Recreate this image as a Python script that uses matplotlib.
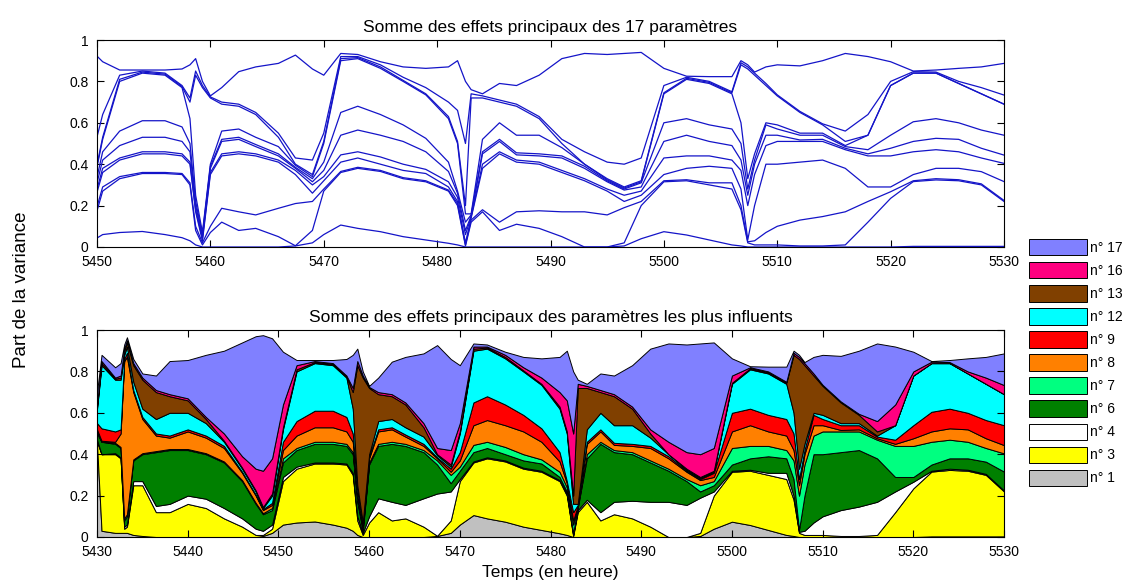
import numpy as np
import matplotlib.pyplot as plt

plt.rcParams["font.family"] = ["Liberation Sans", "DejaVu Sans"]

# time knots (hours)
hours = [5430, 5430.5, 5432, 5432.6, 5433.0, 5433.3, 5434, 5435, 5436.5, 5438,
         5440, 5442, 5444, 5446, 5447.5, 5448.3, 5449.3, 5450.5, 5452, 5454,
         5456, 5457.5, 5458.2, 5458.7, 5459.3, 5460, 5461, 5462.5, 5464, 5466,
         5467.5, 5469, 5470, 5471.5, 5473, 5475, 5477, 5479, 5481, 5481.8,
         5482.5, 5483, 5484, 5485.5, 5487, 5489, 5491, 5493, 5495, 5496.5,
         5498, 5500, 5502, 5504, 5506, 5506.8, 5507.4, 5508, 5509, 5510,
         5512, 5514, 5516, 5518, 5520, 5522, 5524, 5526, 5528, 5530]

# cumulated main effects (top of each layer)
cum_n1 = [0.45, 0.03, 0.02, 0.02, 0.02, 0.02, 0.01, 0.005, 0.0, 0.0,
          0.0, 0.0, 0.0, 0.0, 0.0, 0.005, 0.02, 0.06, 0.07, 0.075,
          0.06, 0.045, 0.03, 0.01, 0.0, 0.0, 0.0, 0.0, 0.0, 0.0,
          0.005, 0.02, 0.06, 0.106, 0.09, 0.074, 0.05, 0.034, 0.018, 0.01,
          0.0, 0.0, 0.0, 0.0, 0.0, 0.0, 0.0, 0.0, 0.0, 0.005,
          0.04, 0.074, 0.058, 0.034, 0.01, 0.005, 0.0, 0.0, 0.0, 0.0,
          0.0, 0.0, 0.0, 0.0, 0.0, 0.003, 0.003, 0.003, 0.003, 0.003]
cum_n3 = [0.46, 0.40, 0.40, 0.38, 0.04, 0.05, 0.25, 0.25, 0.12, 0.12,
          0.16, 0.14, 0.09, 0.05, 0.01, 0.01, 0.04, 0.27, 0.33, 0.355,
          0.355, 0.35, 0.30, 0.08, 0.01, 0.07, 0.12, 0.08, 0.09, 0.05,
          0.006, 0.08, 0.27, 0.36, 0.38, 0.365, 0.33, 0.315, 0.27, 0.20,
          0.005, 0.12, 0.17, 0.08, 0.11, 0.09, 0.05, 0.0, 0.0, 0.02,
          0.20, 0.315, 0.32, 0.30, 0.28, 0.18, 0.02, 0.01, 0.01, 0.01,
          0.005, 0.005, 0.01, 0.12, 0.235, 0.316, 0.324, 0.32, 0.30, 0.22]
cum_n4 = [0.47, 0.40, 0.405, 0.385, 0.05, 0.06, 0.27, 0.27, 0.15, 0.16,
          0.20, 0.185, 0.14, 0.09, 0.04, 0.03, 0.06, 0.29, 0.34, 0.36,
          0.36, 0.355, 0.31, 0.10, 0.02, 0.10, 0.187, 0.17, 0.155, 0.187,
          0.21, 0.22, 0.28, 0.365, 0.385, 0.37, 0.335, 0.32, 0.275, 0.21,
          0.01, 0.13, 0.18, 0.12, 0.17, 0.175, 0.17, 0.17, 0.155, 0.19,
          0.22, 0.32, 0.325, 0.31, 0.31, 0.20, 0.025, 0.03, 0.07, 0.10,
          0.13, 0.147, 0.17, 0.22, 0.267, 0.32, 0.33, 0.325, 0.305, 0.225]
cum_n6 = [0.50, 0.46, 0.45, 0.43, 0.08, 0.10, 0.37, 0.40, 0.41, 0.42,
          0.42, 0.40, 0.36, 0.27, 0.16, 0.11, 0.13, 0.36, 0.42, 0.45,
          0.45, 0.44, 0.40, 0.17, 0.03, 0.35, 0.44, 0.45, 0.44, 0.41,
          0.35, 0.26, 0.32, 0.41, 0.43, 0.40, 0.37, 0.355, 0.29, 0.22,
          0.02, 0.14, 0.38, 0.45, 0.41, 0.40, 0.36, 0.32, 0.27, 0.22,
          0.25, 0.35, 0.38, 0.39, 0.38, 0.28, 0.035, 0.20, 0.40, 0.40,
          0.41, 0.42, 0.38, 0.29, 0.29, 0.35, 0.38, 0.38, 0.364, 0.316]
cum_n7 = [0.51, 0.46, 0.455, 0.435, 0.09, 0.11, 0.375, 0.405, 0.415, 0.425,
          0.425, 0.405, 0.365, 0.275, 0.165, 0.115, 0.14, 0.38, 0.43, 0.46,
          0.46, 0.45, 0.41, 0.18, 0.04, 0.36, 0.45, 0.46, 0.45, 0.42,
          0.37, 0.30, 0.34, 0.445, 0.46, 0.435, 0.40, 0.375, 0.315, 0.24,
          0.06, 0.145, 0.40, 0.46, 0.42, 0.41, 0.37, 0.33, 0.28, 0.25,
          0.27, 0.43, 0.44, 0.44, 0.42, 0.37, 0.20, 0.35, 0.49, 0.51,
          0.51, 0.51, 0.47, 0.44, 0.44, 0.46, 0.47, 0.46, 0.43, 0.404]
cum_n8 = [0.52, 0.465, 0.46, 0.50, 0.85, 0.87, 0.70, 0.57, 0.49, 0.48,
          0.51, 0.48, 0.43, 0.31, 0.20, 0.13, 0.155, 0.42, 0.49, 0.53,
          0.53, 0.51, 0.46, 0.20, 0.05, 0.38, 0.51, 0.52, 0.485, 0.44,
          0.38, 0.315, 0.37, 0.54, 0.565, 0.54, 0.51, 0.46, 0.365, 0.26,
          0.08, 0.15, 0.45, 0.51, 0.445, 0.44, 0.43, 0.38, 0.315, 0.275,
          0.29, 0.51, 0.54, 0.51, 0.49, 0.42, 0.25, 0.40, 0.54, 0.54,
          0.517, 0.52, 0.477, 0.45, 0.477, 0.51, 0.525, 0.52, 0.477, 0.444]
cum_n9 = [0.55, 0.525, 0.51, 0.52, 0.86, 0.89, 0.71, 0.58, 0.50, 0.49,
          0.52, 0.49, 0.44, 0.315, 0.205, 0.135, 0.165, 0.46, 0.56, 0.61,
          0.61, 0.58, 0.50, 0.22, 0.06, 0.39, 0.52, 0.53, 0.495, 0.45,
          0.385, 0.33, 0.41, 0.65, 0.68, 0.64, 0.59, 0.525, 0.41, 0.27,
          0.12, 0.155, 0.46, 0.52, 0.455, 0.45, 0.44, 0.39, 0.32, 0.28,
          0.31, 0.60, 0.62, 0.59, 0.57, 0.50, 0.28, 0.42, 0.59, 0.57,
          0.54, 0.54, 0.485, 0.47, 0.54, 0.605, 0.62, 0.60, 0.565, 0.54]
cum_n12 = [0.62, 0.83, 0.76, 0.76, 0.88, 0.92, 0.75, 0.62, 0.57, 0.60,
           0.60, 0.55, 0.46, 0.33, 0.22, 0.14, 0.20, 0.52, 0.80, 0.84,
           0.83, 0.77, 0.62, 0.25, 0.07, 0.40, 0.56, 0.57, 0.53, 0.485,
           0.395, 0.34, 0.50, 0.90, 0.91, 0.863, 0.80, 0.735, 0.62, 0.50,
           0.16, 0.16, 0.52, 0.60, 0.54, 0.54, 0.48, 0.40, 0.325, 0.285,
           0.315, 0.74, 0.81, 0.79, 0.74, 0.60, 0.33, 0.45, 0.60, 0.59,
           0.55, 0.55, 0.49, 0.54, 0.78, 0.84, 0.84, 0.79, 0.74, 0.69]
cum_n13 = [0.63, 0.84, 0.765, 0.77, 0.90, 0.94, 0.83, 0.76, 0.70, 0.68,
           0.66, 0.57, 0.465, 0.335, 0.225, 0.145, 0.21, 0.53, 0.81, 0.845,
           0.835, 0.775, 0.70, 0.83, 0.77, 0.72, 0.69, 0.68, 0.64, 0.53,
           0.40, 0.35, 0.51, 0.91, 0.915, 0.87, 0.805, 0.74, 0.63, 0.51,
           0.20, 0.72, 0.72, 0.70, 0.68, 0.62, 0.50, 0.40, 0.33, 0.29,
           0.32, 0.745, 0.815, 0.795, 0.745, 0.88, 0.86, 0.83, 0.78, 0.73,
           0.65, 0.59, 0.51, 0.54, 0.78, 0.84, 0.84, 0.79, 0.74, 0.69]
cum_n16 = [0.64, 0.85, 0.77, 0.78, 0.91, 0.95, 0.84, 0.77, 0.71, 0.69,
           0.67, 0.58, 0.50, 0.39, 0.33, 0.32, 0.38, 0.64, 0.83, 0.85,
           0.84, 0.78, 0.72, 0.85, 0.78, 0.725, 0.70, 0.69, 0.65, 0.55,
           0.43, 0.42, 0.55, 0.92, 0.92, 0.88, 0.82, 0.77, 0.70, 0.66,
           0.50, 0.74, 0.73, 0.71, 0.69, 0.63, 0.52, 0.46, 0.41, 0.40,
           0.43, 0.78, 0.82, 0.80, 0.75, 0.89, 0.87, 0.84, 0.79, 0.735,
           0.655, 0.595, 0.56, 0.64, 0.80, 0.847, 0.845, 0.80, 0.77, 0.734]
cum_n17 = [0.70, 0.88, 0.82, 0.84, 0.93, 0.965, 0.86, 0.79, 0.78, 0.85,
           0.855, 0.88, 0.90, 0.94, 0.97, 0.975, 0.96, 0.895, 0.855, 0.855,
           0.855, 0.86, 0.88, 0.91, 0.80, 0.73, 0.77, 0.847, 0.87, 0.887,
           0.927, 0.86, 0.83, 0.935, 0.93, 0.895, 0.87, 0.863, 0.87, 0.90,
           0.80, 0.76, 0.74, 0.79, 0.78, 0.83, 0.91, 0.935, 0.93, 0.935,
           0.94, 0.863, 0.825, 0.823, 0.823, 0.90, 0.88, 0.845, 0.87, 0.88,
           0.875, 0.90, 0.935, 0.92, 0.895, 0.85, 0.855, 0.863, 0.87, 0.887]

labels = ["n° 1", "n° 3", "n° 4", "n° 6", "n° 7", "n° 8", "n° 9",
          "n° 12", "n° 13", "n° 16", "n° 17"]
colors = ["#C0C0C0", "#FFFF00", "#FFFFFF", "#008000", "#00FF80", "#FF8000",
          "#FF0000", "#00FFFF", "#804000", "#FF0080", "#8080FF"]

cums = np.array([cum_n1, cum_n3, cum_n4, cum_n6, cum_n7, cum_n8, cum_n9,
                 cum_n12, cum_n13, cum_n16, cum_n17])
cums = np.maximum.accumulate(cums, axis=0)
t = np.array(hours)

fig = plt.figure(figsize=(11.32, 5.82), dpi=100)
ax1 = fig.add_axes([97 / 1132, 1 - 247 / 582, 907 / 1132, 207 / 582])
ax2 = fig.add_axes([97 / 1132, 1 - 537 / 582, 907 / 1132, 207 / 582])

# top: every cumulated curve
for row in cums:
    ax1.plot(t, row, color="#1414C8", lw=0.9)
ax1.set_xlim(5450, 5530)
ax1.set_xticks(np.arange(5450, 5531, 10))
ax1.set_title("Somme des effets principaux des 17 paramètres", fontsize=12.5, pad=6)

# bottom: stacked areas
handles = []
prev = np.zeros_like(t)
for row, col, lab in zip(cums, colors, labels):
    h = ax2.fill_between(t, prev, row, facecolor=col, edgecolor="black",
                         lw=0.7, label=lab)
    handles.append(h)
    prev = row
ax2.set_xlim(5430, 5530)
ax2.set_xticks(np.arange(5430, 5531, 10))
ax2.set_title("Somme des effets principaux des paramètres les plus influents",
              fontsize=12.5, pad=6)
ax2.set_xlabel("Temps (en heure)", fontsize=12.5, labelpad=4)

for ax in (ax1, ax2):
    ax.set_ylim(0, 1)
    ax.set_yticks([0, 0.2, 0.4, 0.6, 0.8, 1])
    ax.set_yticklabels(["0", "0.2", "0.4", "0.6", "0.8", "1"])
    ax.tick_params(direction="in", top=True, right=True, labelsize=10,
                   length=5)
    ax.tick_params(axis="x", pad=6)
    ax.tick_params(axis="y", pad=6)

fig.text(22 / 1132, 1 - 290 / 582, "Part de la variance", rotation=90,
         ha="center", va="center", fontsize=13.5)

leg = fig.legend(handles[::-1], labels[::-1], loc="upper left",
                 bbox_to_anchor=(1029 / 1132, 1 - 239 / 582), frameon=False,
                 fontsize=10, handlelength=4.15, handleheight=1.44,
                 labelspacing=0.48, handletextpad=0.25, borderpad=0,
                 borderaxespad=0)

fig.savefig("out.png", dpi=100, facecolor="white")
